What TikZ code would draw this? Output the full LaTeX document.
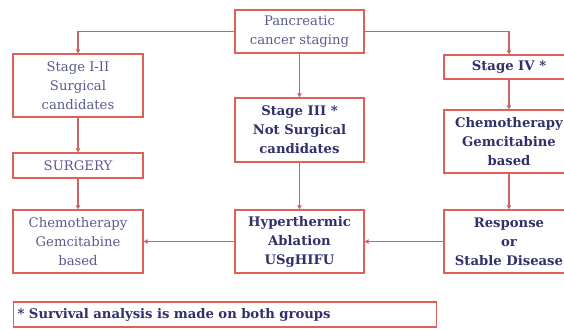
\documentclass[tikz,border=0pt]{standalone}
\usepackage{fontspec}
\setmainfont{DejaVu Serif}
\usetikzlibrary{arrows.meta}
\definecolor{boxred}{RGB}{222,96,88}
\definecolor{linered}{RGB}{200,100,100}
\definecolor{txtlight}{RGB}{90,90,145}
\definecolor{txtdark}{RGB}{48,48,108}
\begin{document}
\begin{tikzpicture}[x=1pt,y=-1pt,
  box/.style={draw=boxred,line width=1.4pt,fill=white,align=center,inner sep=0pt,
    font=\fontsize{13.2}{19}\selectfont},
  lightbox/.style={box,text=txtlight},
  darkbox/.style={box,text=txtdark,font=\fontsize{13.2}{19}\selectfont\bfseries},
  conn/.style={draw=linered,line width=1.3pt,-{Triangle[length=4pt,width=4.5pt]}}]
\useasboundingbox (0,0) rectangle (564,329);
\node[lightbox,minimum width=129pt,minimum height=43pt] (pcs) at (299.5,31.5) {Pancreatic\\cancer staging};
\node[lightbox,minimum width=130pt,minimum height=63pt] (s12) at (78,85.5) {Stage I-II\\Surgical\\candidates};
\node[lightbox,minimum width=130pt,minimum height=25pt] (surg) at (78,165.5) {SURGERY};
\node[lightbox,minimum width=130pt,minimum height=63pt] (chl) at (78,241.5) {Chemotherapy\\Gemcitabine\\based};
\node[darkbox,minimum width=129pt,minimum height=64pt] (s3) at (299.5,130) {Stage III *\\Not Surgical\\candidates};
\node[darkbox,minimum width=129pt,minimum height=63pt] (hyp) at (299.5,241.5) {Hyperthermic\\Ablation\\USgHIFU};
\node[darkbox,minimum width=130pt,minimum height=24pt] (s4) at (509,67) {Stage IV *};
\node[darkbox,minimum width=130pt,minimum height=63pt] (chr) at (509,141.5) {Chemotherapy\\Gemcitabine\\based};
\node[darkbox,minimum width=130pt,minimum height=63pt] (resp) at (509,241.5) {Response\\or\\Stable Disease};
\node[darkbox,minimum width=423pt,minimum height=25pt,align=left,anchor=west,text width=415pt] (foot) at (13,314.5) {* Survival analysis is made on both groups};
\draw[conn] (pcs.west) -| (s12.north);
\draw[conn] (pcs.east) -| (s4.north);
\draw[conn] (pcs.south) -- (s3.north);
\draw[conn] (s12.south) -- (surg.north);
\draw[conn] (surg.south) -- (chl.north);
\draw[conn] (s3.south) -- (hyp.north);
\draw[conn] (s4.south) -- (chr.north);
\draw[conn] (chr.south) -- (resp.north);
\draw[conn] (resp.west) -- (hyp.east);
\draw[conn] (hyp.west) -- (chl.east);
\end{tikzpicture}
\end{document}
